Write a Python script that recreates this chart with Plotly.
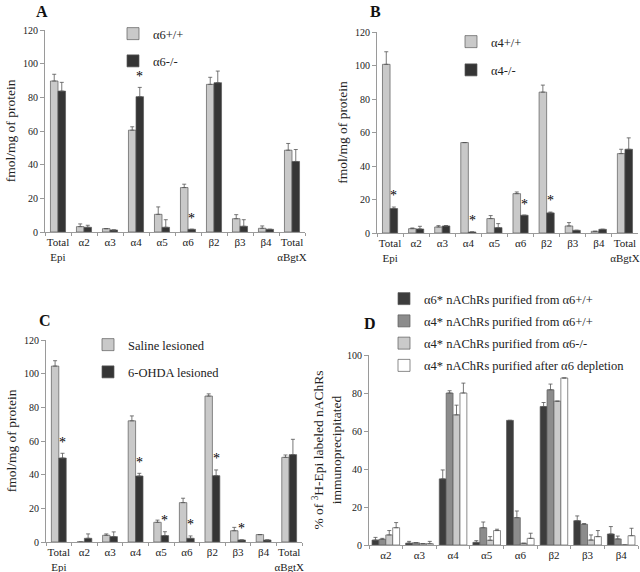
import plotly.graph_objects as go

SERIF = "Liberation Serif"

# ---------------- data ----------------
cats_abc = ["Total<br>Epi", "α2", "α3", "α4", "α5", "α6", "β2", "β3", "β4", "Total<br>αBgtX"]
cats_d = ["α2", "α3", "α4", "α5", "α6", "β2", "β3", "β4"]
yticks_abc = [0, 20, 40, 60, 80, 100, 120]
yticks_d = [0, 20, 40, 60, 80, 100]

# Panel A
a_names = ["α6+/+", "α6-/-"]
a_wt = [89.7, 3.2, 2.0, 60.5, 10.5, 26.4, 87.7, 7.9, 2.2, 48.6]
a_wt_err = [4.0, 1.6, 0.0, 2.0, 4.4, 2.0, 4.2, 2.4, 1.4, 4.0]
a_ko = [83.7, 2.8, 1.2, 80.4, 2.8, 1.6, 88.7, 3.4, 1.6, 41.9]
a_ko_err = [5.2, 1.2, 0.0, 5.5, 4.5, 0.0, 6.9, 3.9, 0.0, 7.1]
a_stars = [3, 5]

# Panel B
b_names = ["α4+/+", "α4-/-"]
b_wt = [100.7, 2.6, 3.6, 54.0, 8.6, 23.5, 84.1, 4.2, 1.0, 47.4]
b_wt_err = [7.5, 0.4, 0.8, 0.0, 1.8, 1.0, 4.2, 2.0, 0.0, 2.6]
b_ko = [14.6, 2.4, 4.2, 0.6, 3.2, 10.6, 12.0, 1.6, 2.2, 50.0]
b_ko_err = [0.9, 1.6, 0.2, 0.0, 2.4, 0.0, 0.5, 0.0, 0.0, 6.8]
b_stars = [0, 3, 5, 6]

# Panel C
c_names = ["Saline lesioned", "6-OHDA lesioned"]
c_sal = [104.5, 0.0, 4.0, 72.0, 11.7, 23.4, 86.7, 6.7, 4.4, 50.3]
c_sal_err = [3.2, 0.0, 0.8, 2.9, 1.3, 2.6, 1.3, 2.0, 0.0, 1.4]
c_les = [49.9, 2.2, 3.2, 39.2, 3.8, 2.2, 39.4, 1.2, 1.2, 51.9]
c_les_err = [2.8, 2.6, 2.8, 1.6, 2.3, 1.4, 3.4, 0.0, 0.0, 9.1]
c_stars = [0, 3, 4, 5, 6, 7]

# Panel D
d_names = ["α6* nAChRs purified from α6+/+",
           "α4* nAChRs purified from α6+/+",
           "α4* nAChRs purified from α6-/-",
           "α4* nAChRs purified after α6 depletion"]
d_vals = [
    [2.6, 1.0, 34.8, 1.4, 65.6, 72.9, 12.8, 5.8],
    [3.0, 1.2, 80.0, 9.1, 14.4, 81.7, 10.9, 3.2],
    [5.3, 0.7, 68.5, 2.5, 0.9, 75.7, 2.6, 0.0],
    [9.1, 0.7, 80.0, 7.6, 3.5, 87.9, 4.4, 4.9],
]
d_errs = [
    [1.4, 0.9, 4.7, 0.9, 0.0, 2.1, 2.5, 3.9],
    [0.5, 0.0, 1.2, 3.0, 3.5, 3.0, 0.4, 1.5],
    [2.3, 0.0, 5.1, 1.9, 0.0, 0.0, 2.7, 0.0],
    [2.7, 1.2, 5.2, 0.7, 2.7, 0.0, 3.2, 3.9],
]

# ---------------- style ----------------
LIGHT = "#c9c9c9"
DARK = "#353535"
D_COLORS = ["#3c3c3c", "#8c8c8c", "#cacaca", "#ffffff"]
EDGE = "#5a5a5a"
AXC = "#9a9a9a"

W = 640
H = 572


def px_x(p):
    return p / W


def px_y(p):
    return 1 - p / H


fig = go.Figure()


def add_bar(name, cats, vals, errs, color, xa, ya, legend, offset, width, group):
    fig.add_trace(go.Bar(
        name=name, x=cats, y=vals,
        xaxis=xa, yaxis=ya, legend=legend, legendgroup=group,
        offset=offset, width=width,
        marker=dict(color=color, line=dict(color=EDGE, width=0.7)),
        error_y=dict(type="data", array=errs, arrayminus=[0] * len(errs),
                     symmetric=False, color="#555555", thickness=0.8, width=2),
    ))


WA = 0.29
add_bar(a_names[0], cats_abc, a_wt, a_wt_err, LIGHT, "x", "y", "legend", -WA, WA, "a0")
add_bar(a_names[1], cats_abc, a_ko, a_ko_err, DARK, "x", "y", "legend", 0, WA, "a1")
add_bar(b_names[0], cats_abc, b_wt, b_wt_err, LIGHT, "x2", "y2", "legend2", -WA, WA, "b0")
add_bar(b_names[1], cats_abc, b_ko, b_ko_err, DARK, "x2", "y2", "legend2", 0, WA, "b1")
add_bar(c_names[0], cats_abc, c_sal, c_sal_err, LIGHT, "x3", "y3", "legend3", -WA, WA, "c0")
add_bar(c_names[1], cats_abc, c_les, c_les_err, DARK, "x3", "y3", "legend3", 0, WA, "c1")

WD = 0.205
for i in range(4):
    add_bar(d_names[i], cats_d, d_vals[i], d_errs[i], D_COLORS[i], "x4", "y4", "legend4",
            -2 * WD + i * WD, WD, "d%d" % i)

fig.update_layout(barmode="overlay")

ax_common = dict(showline=True, linecolor=AXC, linewidth=1, ticks="outside",
                 tickcolor=AXC, showgrid=False, zeroline=False,
                 fixedrange=True, automargin=False)
xfont = dict(family=SERIF, size=11, color="#222")
yfont = dict(family=SERIF, size=10, color="#222")
tfont = dict(family=SERIF, size=13.5, color="#222")

fig.update_layout(
    xaxis=dict(domain=[px_x(45), px_x(305)], anchor="y", type="category", tickangle=0, ticklen=3,
               tickson="boundaries", tickfont=xfont, range=[-0.5, 9.5], **ax_common),
    yaxis=dict(domain=[px_y(232), px_y(30)], anchor="x", range=[0, 120], ticklen=4,
               tickvals=yticks_abc, tickfont=yfont,
               title=dict(text="fmol/mg of protein", font=tfont, standoff=4), **ax_common),
    xaxis2=dict(domain=[px_x(377), px_x(638)], anchor="y2", type="category", tickangle=0, ticklen=3,
                tickson="boundaries", tickfont=xfont, range=[-0.5, 9.5], **ax_common),
    yaxis2=dict(domain=[px_y(233), px_y(32)], anchor="x2", range=[0, 120], ticklen=4,
                tickvals=yticks_abc, tickfont=yfont,
                title=dict(text="fmol/mg of protein", font=tfont, standoff=4), **ax_common),
    xaxis3=dict(domain=[px_x(46), px_x(302)], anchor="y3", type="category", tickangle=0, ticklen=3,
                tickson="boundaries", tickfont=xfont, range=[-0.5, 9.5], **ax_common),
    yaxis3=dict(domain=[px_y(542), px_y(340)], anchor="x3", range=[0, 120], ticklen=4,
                tickvals=yticks_abc, tickfont=yfont,
                title=dict(text="fmol/mg of protein", font=tfont, standoff=4), **ax_common),
    xaxis4=dict(domain=[px_x(369), px_x(638)], anchor="y4", type="category", tickangle=0, ticklen=3,
                tickson="boundaries", tickfont=xfont, range=[-0.5, 7.5], **ax_common),
    yaxis4=dict(domain=[px_y(545), px_y(355)], anchor="x4", range=[0, 100], ticklen=4,
                tickvals=yticks_d, tickfont=yfont,
                title=dict(text="% of <sup>3</sup>H-Epi labeled nAChRs<br>immunoprecipitated",
                           font=tfont, standoff=2), **ax_common),
)

leg_common = dict(xanchor="left", yanchor="top", bgcolor="rgba(0,0,0,0)",
                  font=dict(family=SERIF, size=12.5, color="#222"),
                  traceorder="grouped", itemwidth=30, itemclick=False, itemdoubleclick=False)
fig.update_layout(
    legend=dict(x=px_x(113), y=px_y(19), tracegroupgap=8, **leg_common),
    legend2=dict(x=px_x(451), y=px_y(27), tracegroupgap=9, **leg_common),
    legend3=dict(x=px_x(88), y=px_y(330), tracegroupgap=8, **leg_common),
    legend4=dict(x=px_x(384), y=px_y(284), tracegroupgap=3, **leg_common),
)

# significance asterisks above the knockout / lesioned bars
annotations = []
for xa, ya, vals, errs, stars in [("x", "y", a_ko, a_ko_err, a_stars),
                                  ("x2", "y2", b_ko, b_ko_err, b_stars),
                                  ("x3", "y3", c_les, c_les_err, c_stars)]:
    for k in stars:
        annotations.append(dict(x=k + WA / 2, y=vals[k] + errs[k] + 1.0, xref=xa, yref=ya,
                                text="*", showarrow=False, yanchor="bottom",
                                font=dict(family=SERIF, size=14, color="#000000")))

# panel letters
for letter, lx, ly in [("A", 42, 12), ("B", 375, 12), ("C", 45, 320), ("D", 370, 323)]:
    annotations.append(dict(x=px_x(lx), y=px_y(ly), xref="paper", yref="paper", text="<b>%s</b>" % letter,
                            showarrow=False, xanchor="center", yanchor="middle",
                            font=dict(family=SERIF, size=16, color="#111")))

fig.update_layout(
    annotations=annotations,
    width=W, height=H,
    margin=dict(l=0, r=0, t=0, b=0, autoexpand=False),
    paper_bgcolor="white", plot_bgcolor="white",
    font=dict(family=SERIF, color="#222"),
)

fig.write_html("out.html", config={"displayModeBar": False},
               post_script="document.body.style.margin='0';document.body.style.overflow='hidden';")
